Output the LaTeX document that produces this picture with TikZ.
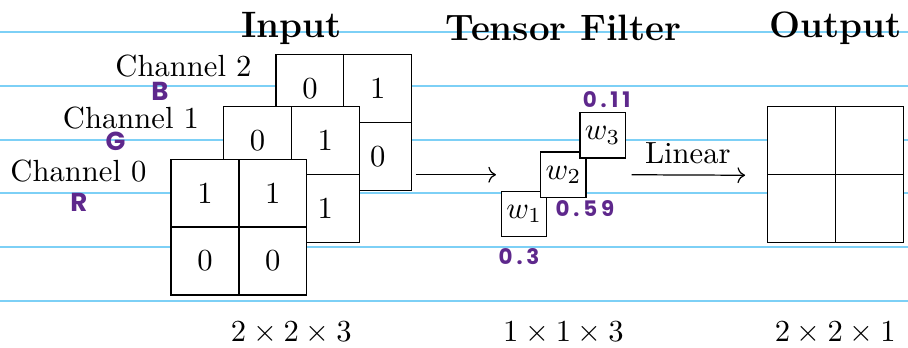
\documentclass[tikz,border=0pt]{standalone}
\usepackage{fontspec}
\newfontfamily\handfont[LetterSpace=18]{Poppins}
\usepackage{xcolor}
\usetikzlibrary{arrows.meta, positioning, calc}
\definecolor{ruleblue}{RGB}{125,208,246}
\definecolor{inkpurple}{RGB}{94,40,140}

\begin{document}
\begin{tikzpicture}[
    ruled/.style={draw=ruleblue, line width=0.6pt},
    cell/.style={draw, fill=white, minimum size=0.78cm, inner sep=0pt},
    wbox/.style={draw, fill=white, minimum size=0.52cm, inner sep=1pt},
    chan/.style={anchor=east, inner sep=1pt},
    heading/.style={font=\large\bfseries},
    ink/.style={text=inkpurple, inner sep=0.5pt, font=\handfont\bfseries\fontsize{7}{8}\selectfont},
    inkbig/.style={ink, font=\handfont\bfseries\fontsize{8.5}{9}\selectfont},
    flow/.style={-{To}, shorten <=0.04cm, shorten >=0.057cm}
  ]
    \useasboundingbox (0,-1.979) rectangle (10.43,2.007);
    % notebook lines
    \foreach \k in {0,...,5} {
      \pgfmathsetmacro{\y}{1.636 - \k*0.6166}
      \draw[ruled] (0,\y) -- (10.43,\y);
    }
    % input channels, back to front
    \foreach \ch/\tl/\tr/\bl/\br in {2/0/1//0, 1/0/1//1, 0/1/1/0/0} {
      \pgfmathsetmacro{\x}{2.744 + \ch*0.603}
      \pgfmathsetmacro{\y}{-0.601 + \ch*0.6015}
      \node[cell] (c\ch tl) at (\x-0.39,\y+0.39) {\tl};
      \node[cell] (c\ch tr) at (\x+0.39,\y+0.39) {\tr};
      \node[cell] (c\ch bl) at (\x-0.39,\y-0.39) {\bl};
      \node[cell] (c\ch br) at (\x+0.39,\y-0.39) {\br};
      \node[chan] (l\ch) at ($(c\ch tl.north west)+(-0.232,-0.14)$) {Channel \ch};
    }
    \node[inkbig] (hb) at (1.838,0.961)  {B};
    \node[inkbig] (hg) at (1.328,0.379)  {G};
    \node[inkbig] (hr) at (0.907,-0.322) {R};
    % filter
    \node[wbox] (w1) at (6.021,-0.451) {$w_1$};
    \node[wbox] (w2) at (6.472,0)      {$w_2$};
    \node[wbox] (w3) at (6.922,0.452)  {$w_3$};
    \node[ink] (v3) at (6.968,0.858)  {0.11};
    \node[ink] (v2) at (6.719,-0.386) {0.59};
    \node[ink] (v1) at (5.962,-0.942) {0.3};
    % output
    \node[cell] (otl) at (9.204,0.39)  {};
    \node[cell] (otr) at (9.984,0.39)  {};
    \node[cell] (obl) at (9.204,-0.39) {};
    \node[cell] (obr) at (9.984,-0.39) {};
    \draw[flow] (c2br.east |- w2) -- (w1.west |- w2);
    \draw[flow, shorten <=0.067cm, shorten >=0.249cm] (w3.east |- w2)
      -- node[above, pos=0.44] (lin) {Linear} (otl.south west);
    \node[heading] (tin)  at (3.346,1.685) {Input};
    \node[heading] (tfl)  at (6.472,1.685) {Tensor Filter};
    \node[heading] (tout) at (9.594,1.685) {Output};
    \node (din)  at (3.346,-1.818) {$2\times2\times3$};
    \node (dfl)  at (6.472,-1.818) {$1\times1\times3$};
    \node (dout) at (9.594,-1.818) {$2\times2\times1$};
\end{tikzpicture}
\end{document}
